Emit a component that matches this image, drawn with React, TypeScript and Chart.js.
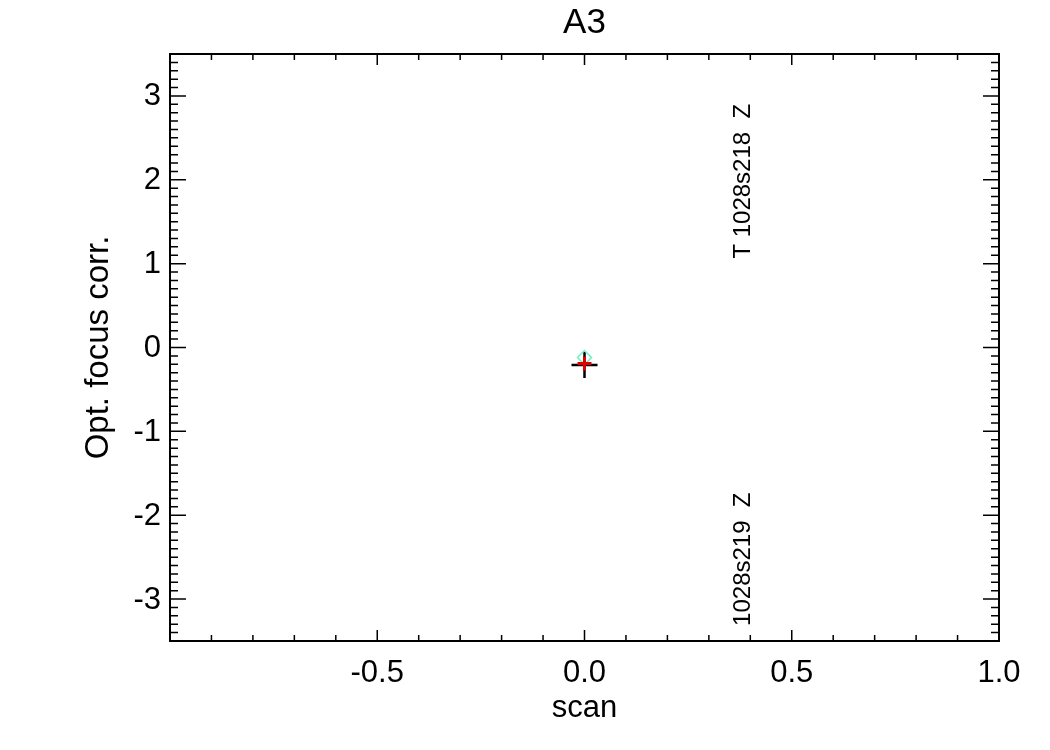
import React, { useEffect, useRef } from 'react';
import { Chart, registerables } from 'chart.js';

Chart.register(...registerables);

// measured points (scan, optimal focus correction)
const GREEN_POINTS = [{ x: 0.0, y: -0.12 }];
const BLACK_POINTS = [{ x: 0.0, y: -0.21 }];
const RED_POINTS = [{ x: 0.0, y: -0.19 }];

const X_TICKS = [-0.5, 0.0, 0.5, 1.0];
const X_TICK_LABELS = ['-0.5', '0.0', '0.5', '1.0'];
const Y_TICKS = [-3, -2, -1, 0, 1, 2, 3];
const Y_TICK_LABELS = ['-3', '-2', '-1', '0', '1', '2', '3'];

const NOTE_TEXTS = ['T 1028s218  Z', '1028s219  Z'];
const NOTE_X = [0.4, 0.4];
const NOTE_Y = [1.06, -3.32];

const FONT = '"Liberation Sans", Arial, Helvetica, sans-serif';

const idlAxes = {
    id: 'idlAxes',
    afterDraw(chart: Chart) {
        const ctx = chart.ctx;
        const { left, right, top, bottom } = chart.chartArea;
        const xs = chart.scales.x;
        const ys = chart.scales.y;
        ctx.save();
        ctx.strokeStyle = '#000';
        ctx.fillStyle = '#000';

        // frame
        ctx.lineWidth = 2;
        ctx.strokeRect(left, top, right - left, bottom - top);

        // ticks, all four sides, pointing inward
        ctx.lineWidth = 1.5;
        ctx.beginPath();
        for (let i = -10; i <= 10; i++) {
            const px = xs.getPixelForValue(i / 10);
            const len = i % 5 === 0 ? 11 : 6;
            ctx.moveTo(px, bottom); ctx.lineTo(px, bottom - len);
            ctx.moveTo(px, top); ctx.lineTo(px, top + len);
        }
        for (let i = -35; i <= 35; i++) {
            const py = ys.getPixelForValue(i / 10);
            const len = i % 10 === 0 ? 16 : 8;
            ctx.moveTo(left, py); ctx.lineTo(left + len, py);
            ctx.moveTo(right, py); ctx.lineTo(right - len, py);
        }
        ctx.stroke();

        // tick labels
        ctx.font = `31px ${FONT}`;
        ctx.textAlign = 'center';
        ctx.textBaseline = 'alphabetic';
        X_TICKS.forEach((v, i) => ctx.fillText(X_TICK_LABELS[i], xs.getPixelForValue(v), bottom + 41));
        ctx.textAlign = 'right';
        ctx.textBaseline = 'middle';
        Y_TICKS.forEach((v, i) => ctx.fillText(Y_TICK_LABELS[i], left - 9, ys.getPixelForValue(v) + 1));

        // titles
        ctx.textAlign = 'center';
        ctx.textBaseline = 'alphabetic';
        ctx.font = `35px ${FONT}`;
        ctx.fillText('A3', (left + right) / 2, 33);
        ctx.font = `31px ${FONT}`;
        ctx.fillText('scan', (left + right) / 2, bottom + 76);
        ctx.save();
        ctx.font = `33px ${FONT}`;
        ctx.translate(108, (top + bottom) / 2);
        ctx.rotate(-Math.PI / 2);
        ctx.fillText('Opt. focus corr.', 0, 0);
        ctx.restore();

        // rotated notes
        ctx.font = `24px ${FONT}`;
        ctx.textAlign = 'left';
        NOTE_TEXTS.forEach((t, i) => {
            ctx.save();
            ctx.translate(xs.getPixelForValue(NOTE_X[i]), ys.getPixelForValue(NOTE_Y[i]));
            ctx.rotate(-Math.PI / 2);
            ctx.fillText(t, 0, 0);
            ctx.restore();
        });
        ctx.restore();
    }
};

export default function App() {
    const chartRef = useRef<HTMLCanvasElement>(null);
    const chartInstance = useRef<Chart | null>(null);

    useEffect(() => {
        document.body.style.margin = '0';
        if (chartInstance.current) chartInstance.current.destroy();
        if (!chartRef.current) return;
        const ctx = chartRef.current.getContext('2d');
        if (!ctx) return;

        chartInstance.current = new Chart(ctx, {
            type: 'scatter',
            data: {
                datasets: [
                    {
                        label: 'red',
                        data: RED_POINTS,
                        pointStyle: 'cross',
                        radius: 7,
                        borderColor: '#e00000',
                        borderWidth: 3,
                        order: 0,
                    },
                    {
                        label: 'green',
                        data: GREEN_POINTS,
                        pointStyle: 'rectRot',
                        radius: 7,
                        borderColor: '#70f0c0',
                        backgroundColor: 'rgba(0,0,0,0)',
                        borderWidth: 1.5,
                        order: 1,
                    },
                    {
                        label: 'black',
                        data: BLACK_POINTS,
                        pointStyle: 'cross',
                        radius: 13,
                        borderColor: '#000',
                        borderWidth: 2.5,
                        order: 2,
                    },
                ]
            },
            options: {
                responsive: false,
                animation: false,
                layout: { padding: { left: 170, right: 51, top: 54, bottom: 109 } },
                plugins: {
                    legend: { display: false },
                    tooltip: { enabled: false },
                },
                scales: {
                    x: { type: 'linear', min: -1, max: 1, display: false },
                    y: { type: 'linear', min: -3.5, max: 3.5, display: false },
                }
            },
            plugins: [idlAxes]
        });

        return () => { if (chartInstance.current) chartInstance.current.destroy(); };
    }, []);

    return (
        <div style={{ width: 1050, height: 750, background: '#fff' }}>
            <canvas ref={chartRef} width={1050} height={750}></canvas>
        </div>
    );
}
